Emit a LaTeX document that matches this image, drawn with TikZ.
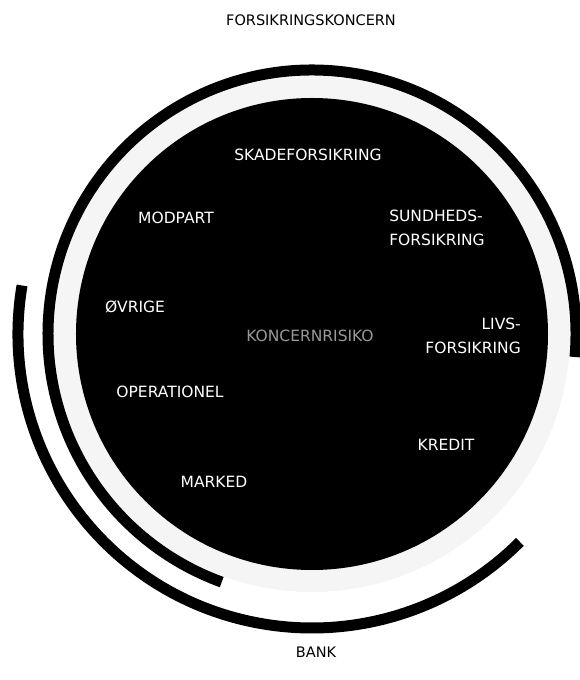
\documentclass[tikz,border=0pt]{standalone}
\usepackage{fontspec}
\setmainfont{DejaVu Sans}
\usetikzlibrary{positioning}

\begin{document}
\begin{tikzpicture}[
  x=1pt, y=1pt,
  band/.style={draw=black, line width=11pt},
  risk/.style={text=white, font=\fontsize{15.5}{24}\selectfont, align=center, inner sep=0pt},
  group/.style={text=black, font=\fontsize{14.5}{17}\selectfont, inner sep=0pt}
]
  \useasboundingbox (-312,-346) rectangle (267,334);
  % halo and disc
  \fill[black!4] (0,0) circle[radius=258];
  \fill[black] (0,0) circle[radius=236];
  % the two groups
  \draw[band] (-5:264) arc[start angle=-5, end angle=250, radius=264];
  \draw[band] (170.5:294) arc[start angle=170.5, end angle=315, radius=294];
  \node[group] (forsikring) at (-1,314) {FORSIKRINGSKONCERN};
  \node[group] (bank) at (4,-318) {BANK};
  % risk types
  \node[risk, text=black!40] (koncern) at (-2,-2) {KONCERNRISIKO};
  \node[risk] (skade) at (-4,179) {SKADEFORSIKRING};
  \node[risk] (modpart) at (-136,116) {MODPART};
  \node[risk, align=left] (sundhed) at (125,106) {SUNDHEDS-\\FORSIKRING};
  \node[risk] (oevrige) at (-177,27) {ØVRIGE};
  \node[risk, align=right, anchor=east] (livs) at (209,-2) {LIVS-\\FORSIKRING};
  \node[risk] (operationel) at (-142,-58) {OPERATIONEL};
  \node[risk] (kredit) at (134,-111) {KREDIT};
  \node[risk] (marked) at (-98,-148) {MARKED};
\end{tikzpicture}
\end{document}
